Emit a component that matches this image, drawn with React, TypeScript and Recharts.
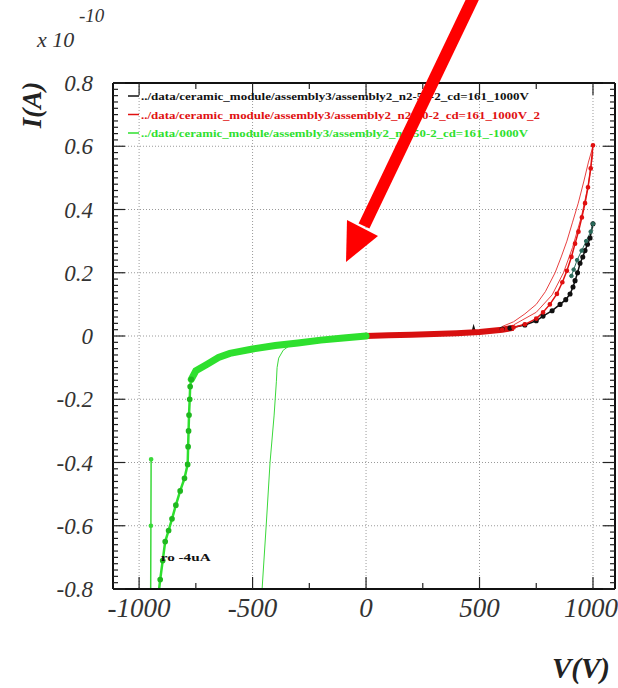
import React from "react";
import { LineChart, Line, XAxis, YAxis, CartesianGrid } from "recharts";

// I-V scan, current in units of 1e-10 A
const xTicks = [-1000, -500, 0, 500, 1000];
const xMinorTicks = [-750, -250, 250, 750];
const yTicks = [-0.8, -0.6, -0.4, -0.2, 0, 0.2, 0.4, 0.6, 0.8];
const yMinorTicks = Array.from({ length: 81 }, (_, k) => Math.round((-0.8 + k * 0.02) * 100) / 100);

const legendNames = [
  "../data/ceramic_module/assembly3/assembly2_n2-50-2_cd=161_1000V",
  "../data/ceramic_module/assembly3/assembly2_n2-50-2_cd=161_1000V_2",
  "../data/ceramic_module/assembly3/assembly2_n2-50-2_cd=161_-1000V",
];
const legendColors = ["#111111", "#e01010", "#2ee02e"];

// black: 1000V
const blackLow: [number, number][] = [
  [0, 0], [100, 0.002], [200, 0.004], [300, 0.007], [400, 0.011], [468, 0.014], [474, 0.03],
  [480, 0.015], [550, 0.019], [600, 0.022],
];
const blackUp: [number, number][] = [
  [600, 0.022], [634, 0.025], [700, 0.035], [750, 0.048], [780, 0.063],
  [820, 0.08], [855, 0.1], [880, 0.115], [899, 0.133], [912, 0.155], [921, 0.175], [932, 0.2],
  [943, 0.23], [955, 0.25], [965, 0.27], [976, 0.29], [987, 0.31], [1000, 0.355],
];
const blackBack: [number, number][] = [
  [1000, 0.355], [990, 0.33], [970, 0.3], [950, 0.27], [930, 0.24], [915, 0.21], [905, 0.19],
];

// red: 1000V_2
const redBand: [number, number][] = [
  [0, 0], [100, 0.002], [200, 0.004], [300, 0.006], [400, 0.009], [500, 0.013], [600, 0.02], [650, 0.026],
];
const redA: [number, number][] = [
  [600, 0.02], [650, 0.027], [700, 0.037], [750, 0.055], [780, 0.075], [810, 0.1], [841, 0.133],
  [865, 0.17], [885, 0.206], [905, 0.25], [921, 0.292], [936, 0.33], [951, 0.375], [965, 0.42],
  [978, 0.47], [990, 0.53], [1000, 0.603],
];
const redB: [number, number][] = [
  [600, 0.03], [650, 0.045], [700, 0.07], [750, 0.1], [790, 0.14], [833, 0.2], [860, 0.25],
  [885, 0.3], [910, 0.36], [935, 0.42], [960, 0.49], [980, 0.55], [1000, 0.6],
];
const redC: [number, number][] = [
  [650, 0.035], [750, 0.075], [820, 0.13], [870, 0.2], [910, 0.28], [950, 0.38], [980, 0.48], [1000, 0.58],
];

// green: -1000V
const greenBand: [number, number][] = [
  [0, 0], [-100, -0.006], [-200, -0.013], [-300, -0.022], [-400, -0.03], [-500, -0.041],
  [-600, -0.055], [-650, -0.068], [-700, -0.089], [-750, -0.11], [-770, -0.137],
];
const greenTail: [number, number][] = [
  [-770, -0.137], [-775, -0.16], [-777, -0.2], [-780, -0.25], [-782, -0.3], [-784, -0.35],
  [-786, -0.406], [-800, -0.45], [-819, -0.49], [-838, -0.535], [-855, -0.578], [-870, -0.615],
  [-885, -0.65], [-896, -0.71], [-907, -0.77], [-915, -0.82],
];
const greenSpike: [number, number][] = [[-947, -0.39], [-948, -0.6], [-949, -0.82]];
const greenBranch: [number, number][] = [
  [-340, -0.032], [-365, -0.045], [-385, -0.07], [-392, -0.1], [-395, -0.143], [-405, -0.25],
  [-423, -0.4], [-440, -0.6], [-458, -0.8], [-460, -0.82],
];

const pts = (a: [number, number][]) => a.map(([v, i]) => ({ v, i }));

const W = 618;
const H = 688;
const MARGIN = { top: 83, right: 3, bottom: 69, left: 53 };
const Y_AXIS_W = 60;
const X_AXIS_H = 30;
const X_DOMAIN: [number, number] = [-1115, 1097];
const Y_DOMAIN: [number, number] = [-0.8, 0.8];
const xTickFont = { fontFamily: "Liberation Serif", fontStyle: "italic", fontSize: 27, fill: "#333" };
const yTickFont = { fontFamily: "Liberation Serif", fontStyle: "italic", fontSize: 23, fill: "#333" };

// plot box, same geometry the chart uses
const PL = MARGIN.left + Y_AXIS_W;
const PR = W - MARGIN.right;
const PT = MARGIN.top;
const PB = H - MARGIN.bottom - X_AXIS_H;
const sx = (v: number) => PL + ((v - X_DOMAIN[0]) / (X_DOMAIN[1] - X_DOMAIN[0])) * (PR - PL);
const sy = (i: number) => PB - ((i - Y_DOMAIN[0]) / (Y_DOMAIN[1] - Y_DOMAIN[0])) * (PB - PT);

export default function App() {
  const tickLines: { x1: number; y1: number; x2: number; y2: number }[] = [];
  yMinorTicks.forEach((y) => {
    const len = yTicks.includes(y) ? 12 : 5;
    tickLines.push({ x1: PL, y1: sy(y), x2: PL + len, y2: sy(y) });
    tickLines.push({ x1: PR, y1: sy(y), x2: PR - len, y2: sy(y) });
  });
  [...xTicks, ...xMinorTicks].forEach((x) => {
    const len = xTicks.includes(x) ? 12 : 6;
    tickLines.push({ x1: sx(x), y1: PB, x2: sx(x), y2: PB - len });
    tickLines.push({ x1: sx(x), y1: PT, x2: sx(x), y2: PT + len });
  });

  return (
    <div style={{ position: "absolute", left: 0, top: 0, width: W, height: H, background: "#fff" }}>
      <LineChart width={W} height={H} margin={MARGIN}>
        <CartesianGrid stroke="#9a9a9a" strokeDasharray="1 2" />
        <XAxis
          type="number"
          dataKey="v"
          domain={X_DOMAIN}
          ticks={xTicks}
          allowDataOverflow
          height={X_AXIS_H}
          tickSize={0}
          tickMargin={9}
          tickLine={false}
          stroke="#111"
          tick={xTickFont}
        />
        <YAxis
          type="number"
          dataKey="i"
          domain={Y_DOMAIN}
          ticks={yTicks}
          allowDataOverflow
          width={Y_AXIS_W}
          tickSize={0}
          tickMargin={20}
          tickLine={false}
          stroke="#111"
          tick={yTickFont}
        />

        <Line data={pts(blackLow)} dataKey="i" type="linear" stroke="#111" strokeWidth={1.5} dot={false} isAnimationActive={false} />
        <Line data={pts(blackUp)} dataKey="i" type="linear" stroke="#111" strokeWidth={1.5} dot={{ r: 1.8, fill: "#111", stroke: "#111" }} isAnimationActive={false} />
        <Line data={pts(blackBack)} dataKey="i" type="linear" stroke="#2b6b5b" strokeWidth={1} dot={{ r: 1.8, fill: "#2b6b5b", stroke: "#2b6b5b" }} isAnimationActive={false} />

        <Line data={pts(redB)} dataKey="i" type="linear" stroke="#e84040" strokeWidth={1} dot={false} isAnimationActive={false} />
        <Line data={pts(redC)} dataKey="i" type="linear" stroke="#e84040" strokeWidth={1} dot={false} isAnimationActive={false} />
        <Line data={pts(redA)} dataKey="i" type="linear" stroke="#e01010" strokeWidth={1.5} dot={{ r: 1.6, fill: "#e01010", stroke: "#e01010" }} isAnimationActive={false} />
        <Line data={pts(redBand)} dataKey="i" type="linear" stroke="#d81010" strokeWidth={6} dot={false} isAnimationActive={false} />

        <Line data={pts(greenBranch)} dataKey="i" type="linear" stroke="#3ad83a" strokeWidth={1} dot={false} isAnimationActive={false} />
        <Line data={pts(greenSpike)} dataKey="i" type="linear" stroke="#3ad83a" strokeWidth={1.5} dot={{ r: 1.6, fill: "#3ad83a", stroke: "#3ad83a" }} isAnimationActive={false} />
        <Line data={pts(greenTail)} dataKey="i" type="linear" stroke="#2ee02e" strokeWidth={2.5} dot={{ r: 1.6, fill: "#1fb81f", stroke: "#1fb81f" }} isAnimationActive={false} />
        <Line data={pts(greenBand)} dataKey="i" type="linear" stroke="#2ee02e" strokeWidth={7} strokeLinecap="round" dot={false} isAnimationActive={false} />
      </LineChart>

      <svg width={W} height={H} style={{ position: "absolute", left: 0, top: 0, pointerEvents: "none" }}>
        {/* frame with inside ticks */}
        <line x1={PL} y1={PT} x2={PR} y2={PT} stroke="#111" strokeWidth={2} />
        <line x1={PR} y1={PT} x2={PR} y2={PB} stroke="#111" strokeWidth={2} />
        <line x1={PL} y1={PB} x2={PR} y2={PB} stroke="#111" strokeWidth={2} />
        <line x1={PL} y1={PT} x2={PL} y2={PB} stroke="#111" strokeWidth={2} />
        {tickLines.map((t, k) => (
          <line key={k} x1={t.x1} y1={t.y1} x2={t.x2} y2={t.y2} stroke="#222" strokeWidth={1.2} />
        ))}

        {/* legend */}
        {legendNames.map((name, k) => (
          <g key={name}>
            <line x1={128} x2={139} y1={96 + k * 18.5} y2={96 + k * 18.5} stroke={legendColors[k]} strokeWidth={1.5} />
            <text
              x={141}
              y={96 + k * 18.5}
              dominantBaseline="central"
              fontFamily="Liberation Serif"
              fontWeight="bold"
              fontSize={11}
              fill={legendColors[k]}
              textLength={[388, 399, 387][k]}
              lengthAdjust="spacingAndGlyphs"
            >
              {name}
            </text>
          </g>
        ))}
        <text x={sx(-905)} y={sy(-0.7)} dominantBaseline="central" fontFamily="Liberation Serif" fontWeight="bold" fontSize={11} fill="#111" textLength={50} lengthAdjust="spacingAndGlyphs">
          ro -4uA
        </text>

        {/* axis titles */}
        <text x={37} y={47} fontFamily="Liberation Serif" fontStyle="italic" fontSize={22} fill="#333">x 10</text>
        <text x={79} y={22} fontFamily="Liberation Serif" fontStyle="italic" fontSize={19} fill="#333">-10</text>
        <text x={32} y={105} transform="rotate(-90 32 105)" textAnchor="middle" dominantBaseline="central" fontFamily="Liberation Serif" fontStyle="italic" fontWeight="bold" fontSize={27} fill="#222">I(A)</text>
        <text x={610} y={678} textAnchor="end" fontFamily="Liberation Serif" fontStyle="italic" fontWeight="bold" fontSize={29} fill="#222">V(V)</text>

        {/* red arrow */}
        <line x1={476} y1={-8} x2={364} y2={226} stroke="#ff0000" strokeWidth={12} />
        <polygon points="346,262 378,236 347,220" fill="#ff0000" />
      </svg>
    </div>
  );
}
